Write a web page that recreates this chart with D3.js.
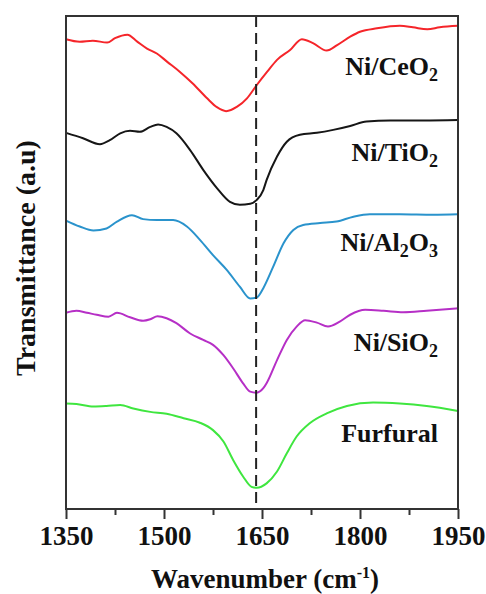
<!DOCTYPE html>
<html>
<head>
    <title>FTIR spectra</title>
    <script src="https://d3js.org/d3.v7.min.js"></script>
    <style>
        body { margin: 0; padding: 0; background: #fff; }
        text { font-family: "Liberation Serif", "Times New Roman", serif; font-weight: bold; fill: #111; }
    </style>
</head>
<body>
    <script>
        // wavenumber (cm-1) and offset transmittance (a.u.)
        var ceo2X = [1350, 1371, 1391, 1413, 1425, 1444, 1459, 1474, 1489, 1505, 1524, 1544, 1566, 1581, 1595, 1612, 1627, 1642, 1658, 1673, 1693, 1711, 1728, 1749, 1765, 1785, 1800, 1826, 1861, 1881, 1903, 1922, 1950];
        var ceo2Y = [95.3, 94.8, 95.0, 94.6, 95.5, 96.2, 94.8, 93.4, 92.4, 90.7, 88.7, 86.3, 83.3, 81.5, 80.7, 81.6, 83.3, 86.0, 88.7, 91.1, 93.1, 95.3, 94.5, 93.0, 94.1, 95.8, 96.8, 97.5, 98.0, 97.7, 97.3, 97.7, 98.0];

        var tio2X = [1350, 1376, 1402, 1417, 1433, 1448, 1463, 1479, 1491, 1504, 1519, 1540, 1560, 1581, 1601, 1616, 1632, 1642, 1652, 1657, 1673, 1688, 1708, 1734, 1759, 1785, 1810, 1846, 1897, 1950];
        var tio2Y = [76.3, 75.2, 74.0, 74.8, 76.2, 76.7, 76.5, 77.5, 78.0, 77.5, 76.2, 72.8, 68.8, 65.1, 62.3, 61.7, 61.9, 62.7, 64.7, 66.7, 71.5, 74.5, 75.9, 76.3, 76.9, 77.7, 78.6, 78.8, 78.8, 78.9];

        var al2o3X = [1350, 1371, 1392, 1412, 1428, 1451, 1468, 1489, 1514, 1535, 1555, 1575, 1596, 1616, 1632, 1642, 1652, 1667, 1683, 1698, 1713, 1739, 1764, 1790, 1815, 1861, 1912, 1950];
        var al2o3Y = [58.5, 57.3, 56.5, 56.9, 58.3, 59.6, 58.8, 58.6, 58.6, 57.3, 54.6, 51.5, 48.5, 45.1, 42.7, 42.9, 44.8, 49.1, 53.9, 56.6, 57.6, 58.0, 58.3, 59.3, 59.8, 59.8, 59.7, 59.8];

        var sio2X = [1350, 1366, 1382, 1397, 1415, 1428, 1448, 1468, 1479, 1490, 1504, 1519, 1540, 1560, 1575, 1591, 1606, 1621, 1632, 1642, 1652, 1657, 1673, 1688, 1703, 1716, 1734, 1751, 1769, 1785, 1808, 1836, 1866, 1902, 1950];
        var sio2Y = [39.8, 40.2, 39.8, 39.4, 39.0, 39.8, 38.9, 38.2, 38.5, 39.1, 38.7, 37.7, 35.6, 34.3, 33.3, 31.2, 28.5, 25.5, 23.8, 23.6, 24.5, 25.5, 30.2, 34.3, 37.0, 38.3, 37.8, 37.0, 38.0, 39.4, 40.4, 40.2, 39.9, 40.2, 40.7];

        var furfuralX = [1350, 1366, 1392, 1412, 1433, 1453, 1479, 1504, 1530, 1555, 1575, 1591, 1606, 1621, 1634, 1642, 1657, 1673, 1688, 1703, 1723, 1749, 1780, 1820, 1861, 1902, 1950];
        var furfuralY = [21.4, 21.3, 20.8, 20.9, 21.1, 20.4, 19.7, 19.3, 18.4, 17.5, 16.0, 13.7, 9.9, 6.6, 4.5, 4.3, 5.2, 7.6, 11.3, 14.7, 17.4, 19.4, 20.9, 21.6, 21.4, 20.9, 19.9];

        var names = [["Ni/CeO", "2", ""], ["Ni/TiO", "2", ""], ["Ni/Al", "2", "O", "3"], ["Ni/SiO", "2", ""], ["Furfural"]];
        var colors = ["#f5252a", "#161616", "#2a93cc", "#b62fc6", "#3fe63f"];
        var labelY = [88, 70.5, 52.3, 32, 13.6];
        var xTicks = [1350, 1500, 1650, 1800, 1950];
        var xMinor = [1425, 1575, 1725, 1875];
        var peakLine = 1641;

        var series = [[ceo2X, ceo2Y], [tio2X, tio2Y], [al2o3X, al2o3Y], [sio2X, sio2Y], [furfuralX, furfuralY]];

        var width = 486, height = 594;
        var margin = { top: 16, right: 28, bottom: 85, left: 66 };

        var svg = d3.select("body").append("svg")
            .attr("width", width)
            .attr("height", height);

        var x = d3.scaleLinear().domain([1350, 1950]).range([margin.left, width - margin.right]);
        var y = d3.scaleLinear().domain([0, 100]).range([height - margin.bottom, margin.top]);

        var line = d3.line()
            .x(d => x(d[0]))
            .y(d => y(d[1]))
            .curve(d3.curveMonotoneX);

        series.forEach((s, i) => {
            var pts = s[0].map((v, j) => [v, s[1][j]]);
            svg.append("path")
                .attr("d", line(pts))
                .attr("fill", "none")
                .attr("stroke", colors[i])
                .attr("stroke-width", 2);
        });

        // dashed reference line at the C=O band
        svg.append("line")
            .attr("x1", x(peakLine)).attr("x2", x(peakLine))
            .attr("y1", y(100)).attr("y2", y(0))
            .attr("stroke", "#222")
            .attr("stroke-width", 2)
            .attr("stroke-dasharray", "11,6");

        // frame
        svg.append("rect")
            .attr("x", x(1350)).attr("y", y(100))
            .attr("width", x(1950) - x(1350))
            .attr("height", y(0) - y(100))
            .attr("fill", "none")
            .attr("stroke", "#333")
            .attr("stroke-width", 2);

        var ax = svg.append("g").attr("transform", "translate(0," + y(0) + ")");
        ax.call(d3.axisBottom(x).tickValues(xTicks).tickSize(10).tickPadding(7).tickFormat(d3.format("d")));
        ax.call(g => g.select(".domain").remove());
        ax.selectAll(".tick line").attr("stroke", "#333").attr("stroke-width", 2);
        ax.selectAll(".tick text")
            .attr("font-family", "Liberation Serif, Times New Roman, serif")
            .attr("font-weight", "bold")
            .attr("font-size", 27)
            .attr("fill", "#111");
        svg.append("g").attr("transform", "translate(0," + y(0) + ")")
            .call(d3.axisBottom(x).tickValues(xMinor).tickSize(6).tickFormat(""))
            .call(g => g.select(".domain").remove())
            .selectAll(".tick line").attr("stroke", "#333").attr("stroke-width", 2);

        // series labels with subscripts
        names.forEach((n, i) => {
            var t = svg.append("text")
                .attr("x", 438)
                .attr("y", y(labelY[i]))
                .attr("text-anchor", "end")
                .attr("font-size", 26);
            n.forEach((part, k) => {
                if (part === "") return;
                var sub = k % 2 === 1;
                t.append("tspan")
                    .attr("font-size", sub ? 18 : 26)
                    .attr("dy", sub ? 6 : (k > 0 ? -6 : 0))
                    .text(part);
            });
        });

        svg.append("text")
            .attr("x", (x(1350) + x(1950)) / 2 + 3)
            .attr("y", 588)
            .attr("text-anchor", "middle")
            .attr("font-size", 27)
            .html('Wavenumber (cm<tspan font-size="16" dy="-10">-1</tspan><tspan dy="10">)</tspan>');

        svg.append("text")
            .attr("transform", "translate(35,258) rotate(-90)")
            .attr("text-anchor", "middle")
            .attr("font-size", 28)
            .text("Transmittance (a.u)");
    </script>
</body>
</html>
